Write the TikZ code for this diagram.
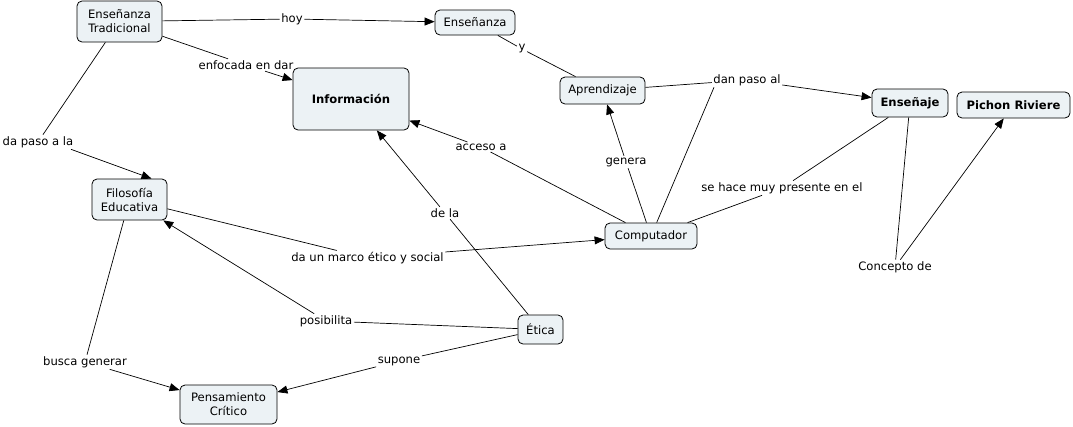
\documentclass[tikz,border=0pt]{standalone}
\usepackage{fontspec}
\setmainfont{DejaVu Sans}
\usetikzlibrary{arrows.meta}
\definecolor{cfill}{RGB}{236,242,245}
\newcommand{\cfont}{\fontsize{11.6}{14}\selectfont}
\tikzset{
  concept/.style={draw=black, line width=0.8pt, fill=cfill, rounded corners=5pt, align=center, inner sep=1pt, font=\cfont},
  bconcept/.style={concept, font=\cfont\bfseries},
  lab/.style={inner sep=1.5pt, font=\cfont},
  conn/.style={line width=0.7pt},
  arr/.style={line width=0.7pt, -{Triangle[length=10pt,width=8pt]}},
}
\begin{document}
\begin{tikzpicture}[x=1pt,y=-1pt]
\useasboundingbox (0,0) rectangle (1073,426);
% concepts
\node[concept, minimum width=85pt, minimum height=41pt] (et) at (119.5,21.5) {Enseñanza\\Tradicional};
\node[concept, minimum width=80pt, minimum height=25pt] (ens) at (475,22.5) {Enseñanza};
\node[bconcept, minimum width=116pt, minimum height=62pt] (info) at (351,99) {Información};
\node[concept, minimum width=85pt, minimum height=27pt] (apr) at (602.5,90.5) {Aprendizaje};
\node[bconcept, minimum width=76pt, minimum height=28pt] (enj) at (910,103) {Enseñaje};
\node[bconcept, minimum width=113pt, minimum height=26pt] (pich) at (1013.5,105) {Pichon Riviere};
\node[concept, minimum width=75pt, minimum height=41pt] (filo) at (129.5,199.5) {Filosofía\\Educativa};
\node[concept, minimum width=92pt, minimum height=26pt] (comp) at (651,236) {Computador};
\node[concept, minimum width=45pt, minimum height=29pt] (etica) at (540.5,329.5) {Ética};
\node[concept, minimum width=97pt, minimum height=39pt] (pc) at (228.5,404.5) {Pensamiento\\Crítico};
% linking phrases
\node[lab] (hoy) at (292,19) {hoy};
\node[lab] (y) at (522,49) {y};
\node[lab] (enf) at (246,65) {enfocada en dar};
\node[lab] (dpl) at (38,142) {da paso a la};
\node[lab] (dpa) at (747,80) {dan paso al};
\node[lab] (acc) at (481,147) {acceso a};
\node[lab] (gen) at (626,162) {genera};
\node[lab] (shm) at (782,188) {se hace muy presente en el};
\node[lab] (dela) at (445,213) {de la};
\node[lab] (marco) at (367.5,258) {da un marco ético y social};
\node[lab] (pos) at (326,321) {posibilita};
\node[lab] (sup) at (399,361) {supone};
\node[lab] (busca) at (85,362) {busca generar};
\node[lab] (conc) at (895,267) {Concepto de};
% connectors
\draw[conn] (et) -- (hoy);
\draw[arr] (hoy) -- (ens);
\draw[conn] (et) -- (enf);
\draw[arr] (enf) -- (info);
\draw[conn] (et) -- (dpl);
\draw[arr] ([xshift=-4pt]dpl.south east) -- ([xshift=22pt]filo.north);
\draw[conn] (ens) -- (y);
\draw[conn] (y) -- (apr);
\draw[conn] (apr) -- (dpa);
\draw[arr] (dpa) -- (enj);
\draw[conn] (comp) -- ([xshift=-33pt]dpa.south);
\draw[conn] (comp) -- (gen);
\draw[arr] (gen) -- (apr);
\draw[conn] (comp) -- (acc);
\draw[arr] (acc) -- (info);
\draw[conn] (comp) -- (shm);
\draw[conn] (shm) -- (enj);
\draw[conn] (filo) -- (marco);
\draw[arr] (marco) -- (comp);
\draw[conn] (etica) -- (dela);
\draw[arr] (dela) -- (info);
\draw[conn] (etica) -- (pos);
\draw[arr] (pos) -- (filo);
\draw[conn] (etica) -- (sup);
\draw[arr] (sup) -- (pc);
\draw[conn] (filo) -- (busca);
\draw[arr] (busca) -- (pc);
\draw[conn] (enj) -- (conc);
\draw[arr] (conc) -- (pich);
\end{tikzpicture}
\end{document}
